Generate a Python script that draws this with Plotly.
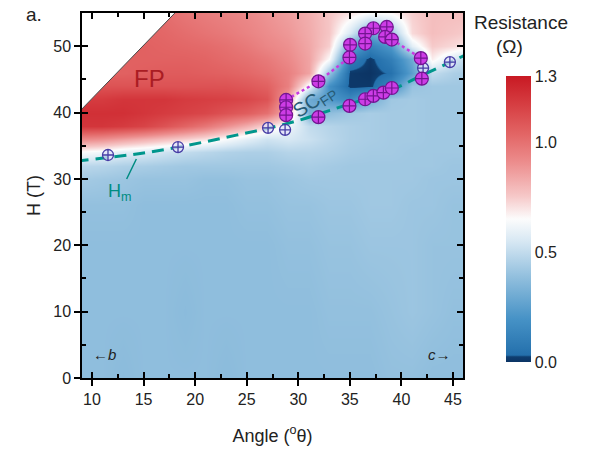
import plotly.graph_objects as go

# ---------------- data ----------------
angles = [9, 11, 13, 15, 17, 19, 21, 23, 25, 27, 29, 31, 33, 35, 37, 39, 41, 43, 45, 46]
fields = [0, 10, 20, 26, 30, 32, 34, 36, 38, 40, 42, 44, 46, 48, 50, 52, 55]
resistance = [
    [0.38, 0.38, 0.37, 0.38, 0.38, 0.38, 0.38, 0.37, 0.38, 0.38, 0.38, 0.38, 0.38, 0.38, 0.38, 0.39, 0.39, 0.38, 0.38, 0.38],
    [0.38, 0.38, 0.38, 0.38, 0.38, 0.37, 0.38, 0.38, 0.38, 0.38, 0.38, 0.38, 0.39, 0.39, 0.39, 0.40, 0.41, 0.40, 0.39, 0.39],
    [0.38, 0.38, 0.38, 0.38, 0.38, 0.38, 0.38, 0.38, 0.38, 0.38, 0.39, 0.39, 0.40, 0.40, 0.41, 0.41, 0.41, 0.40, 0.40, 0.40],
    [0.39, 0.39, 0.39, 0.38, 0.38, 0.38, 0.38, 0.38, 0.39, 0.39, 0.40, 0.40, 0.41, 0.41, 0.42, 0.42, 0.41, 0.41, 0.40, 0.40],
    [0.43, 0.42, 0.41, 0.40, 0.40, 0.40, 0.39, 0.39, 0.40, 0.40, 0.41, 0.42, 0.42, 0.42, 0.42, 0.42, 0.42, 0.41, 0.41, 0.41],
    [0.48, 0.47, 0.45, 0.44, 0.43, 0.42, 0.42, 0.42, 0.42, 0.42, 0.43, 0.44, 0.43, 0.42, 0.42, 0.42, 0.42, 0.42, 0.41, 0.41],
    [0.64, 0.62, 0.58, 0.56, 0.53, 0.50, 0.48, 0.46, 0.45, 0.45, 0.47, 0.47, 0.46, 0.44, 0.43, 0.43, 0.42, 0.42, 0.42, 0.42],
    [0.92, 0.90, 0.86, 0.82, 0.78, 0.74, 0.70, 0.64, 0.58, 0.53, 0.55, 0.52, 0.48, 0.45, 0.44, 0.43, 0.43, 0.42, 0.42, 0.42],
    [1.20, 1.20, 1.18, 1.15, 1.10, 1.04, 0.98, 0.90, 0.82, 0.72, 0.62, 0.50, 0.47, 0.45, 0.44, 0.43, 0.43, 0.42, 0.42, 0.42],
    [1.22, 1.22, 1.22, 1.20, 1.18, 1.16, 1.14, 1.10, 1.06, 1.00, 0.80, 0.32, 0.38, 0.42, 0.44, 0.43, 0.43, 0.42, 0.42, 0.42],
    [1.18, 1.18, 1.20, 1.20, 1.20, 1.18, 1.17, 1.16, 1.14, 1.10, 0.85, 0.30, 0.22, 0.15, 0.30, 0.42, 0.43, 0.42, 0.42, 0.42],
    [1.10, 1.10, 1.10, 1.10, 1.10, 1.10, 1.10, 1.10, 1.08, 1.05, 0.95, 0.62, 0.18, 0.01, 0.01, 0.15, 0.40, 0.42, 0.42, 0.42],
    [1.05, 1.05, 1.05, 1.06, 1.07, 1.07, 1.06, 1.05, 1.03, 1.00, 0.95, 0.85, 0.40, 0.01, 0.00, 0.04, 0.25, 0.50, 0.45, 0.44],
    [1.05, 1.05, 1.05, 1.05, 1.05, 1.05, 1.04, 1.02, 1.00, 0.97, 0.92, 0.85, 0.65, 0.10, 0.01, 0.10, 0.30, 0.68, 0.55, 0.50],
    [1.05, 1.05, 1.05, 1.05, 1.04, 1.03, 1.02, 1.00, 0.97, 0.93, 0.90, 0.84, 0.74, 0.30, 0.12, 0.22, 0.58, 0.75, 0.72, 0.70],
    [1.05, 1.05, 1.05, 1.04, 1.03, 1.01, 0.99, 0.97, 0.94, 0.91, 0.88, 0.83, 0.76, 0.55, 0.30, 0.40, 0.72, 0.78, 0.76, 0.75],
    [1.05, 1.05, 1.05, 1.03, 1.01, 0.98, 0.96, 0.94, 0.92, 0.89, 0.86, 0.82, 0.76, 0.70, 0.64, 0.66, 0.74, 0.78, 0.78, 0.78],
]

# unmeasured (white) region boundary, top-left
edge_angle = [8.0, 18.66, 8.0, 8.0]
edge_field = [38.9, 56.0, 56.0, 38.9]

# metamagnetic transition Hm (dashed guide)
hm_line_angle = [8.5, 12, 15, 18, 21, 24, 27, 30, 33, 36, 39, 42, 45, 46.5]
hm_line_field = [32.7, 33.3, 33.9, 34.7, 35.6, 36.6, 37.6, 38.8, 40.3, 41.8, 43.4, 45.6, 47.8, 48.9]

# Hm data points
hm_angle = [11.55, 18.34, 27.07, 28.72, 42.1, 44.7]
hm_field = [33.6, 34.8, 37.7, 37.4, 46.7, 47.6]

# SC_FP boundary points
sc_angle = [37.28, 38.58, 36.48, 36.48, 38.42, 39.07, 35.02, 34.96, 41.88, 31.95,
            41.98, 28.82, 28.82, 28.82, 31.95, 34.96, 36.48, 37.28, 38.25, 39.07]
sc_field = [52.7, 52.9, 51.9, 50.4, 51.4, 51.0, 50.2, 48.3, 48.2, 44.7,
            45.1, 41.9, 40.8, 39.6, 39.3, 41.0, 42.0, 42.5, 43.0, 43.7]

# dotted SC boundary guides
sc_upper_angle = [28.82, 31.95, 34.96]
sc_upper_field = [41.9, 44.7, 48.3]
sc_right_angle = [39.07, 41.88]
sc_right_field = [51.0, 48.2]

cbar_ticks = [0.0, 0.5, 1.0, 1.3]

colorscale = [
    [0.0, "rgb(12,52,100)"],
    [0.018, "rgb(14,62,112)"],
    [0.024, "rgb(36,112,172)"],
    [0.15, "rgb(70,146,198)"],
    [0.30, "rgb(147,192,222)"],
    [0.42, "rgb(214,231,243)"],
    [0.50, "rgb(252,252,252)"],
    [0.58, "rgb(246,200,200)"],
    [0.70, "rgb(236,140,140)"],
    [0.80, "rgb(226,100,100)"],
    [0.90, "rgb(214,62,66)"],
    [1.0, "rgb(200,25,35)"],
]

FONT = "Liberation Sans, Arial, sans-serif"
XR = [9.03, 45.97]
YR = [0, 55]

fig = go.Figure()

fig.add_trace(go.Heatmap(
    x=angles, y=fields, z=resistance, zsmooth="best",
    colorscale=colorscale, zmin=0, zmax=1.3,
    colorbar=dict(
        x=1.0866, xanchor="left", y=0.4356, yanchor="middle",
        len=0.838, lenmode="fraction", thickness=25, outlinewidth=0,
        tickvals=cbar_ticks, ticktext=["0.0", "0.5", "1.0", "1.3"],
        ticks="", tickfont=dict(family=FONT, size=16, color="#222"),
    ),
    hoverinfo="skip",
))

fig.add_trace(go.Scatter(
    x=edge_angle, y=edge_field, mode="lines", fill="toself",
    fillcolor="white", line=dict(color="rgb(70,70,70)", width=1),
    showlegend=False, hoverinfo="skip",
))

fig.add_trace(go.Scatter(
    x=hm_line_angle, y=hm_line_field, mode="lines", line_shape="spline",
    line=dict(color="rgb(0,150,140)", width=3, dash="12px,7px"),
    showlegend=False, xaxis="x2", yaxis="y2",
))

for xa, ya in [(sc_upper_angle, sc_upper_field), (sc_right_angle, sc_right_field)]:
    fig.add_trace(go.Scatter(
        x=xa, y=ya, mode="lines",
        line=dict(color="rgb(200,60,225)", width=2.5, dash="dot"),
        showlegend=False, xaxis="x2", yaxis="y2",
    ))

fig.add_trace(go.Scatter(
    x=hm_angle, y=hm_field, mode="markers",
    marker=dict(symbol="circle-cross", size=11, color="rgba(225,225,250,0.75)",
                line=dict(color="rgb(70,60,165)", width=1.3)),
    showlegend=False, xaxis="x2", yaxis="y2",
))

fig.add_trace(go.Scatter(
    x=sc_angle, y=sc_field, mode="markers",
    marker=dict(symbol="circle-cross", size=13, color="rgb(205,60,230)",
                line=dict(color="rgb(115,20,145)", width=1.2)),
    showlegend=False, xaxis="x2", yaxis="y2",
))

axis_common = dict(showgrid=False, zeroline=False, linecolor="black", linewidth=1.5,
                   tickcolor="black", tickwidth=1.5, automargin=False)

fig.update_layout(
    width=589, height=449,
    margin=dict(l=82, r=126, t=13, b=71, autoexpand=False),
    paper_bgcolor="white", plot_bgcolor="white",
    font=dict(family=FONT, color="#222"),
    xaxis=dict(range=XR, tickvals=[10, 15, 20, 25, 30, 35, 40, 45], ticks="outside",
               ticklen=6, showline=True, mirror=True,
               tickfont=dict(size=16, family=FONT, color="#222"),
               title=dict(text="Angle (<sup>o</sup>θ)", font=dict(size=18, family=FONT, color="#222"),
                          standoff=22),
               **axis_common),
    yaxis=dict(range=YR, tickvals=[0, 10, 20, 30, 40, 50], ticks="outside",
               ticklen=6, showline=True, mirror=True,
               tickfont=dict(size=16, family=FONT, color="#222"),
               title=dict(text="H (T)", font=dict(size=18, family=FONT, color="#222"),
                          standoff=8),
               **axis_common),
    xaxis2=dict(range=XR, overlaying="x", anchor="y2", side="bottom",
                tickvals=[10, 15, 20, 25, 30, 35, 40, 45], ticks="inside", ticklen=6,
                showticklabels=False, showline=True, mirror="ticks",
                minor=dict(tickvals=[12.5, 17.5, 22.5, 27.5, 32.5, 37.5, 42.5],
                           ticks="inside", ticklen=4, tickcolor="black", tickwidth=1.5),
                **axis_common),
    yaxis2=dict(range=YR, overlaying="y", anchor="x2", side="left",
                tickvals=[0, 10, 20, 30, 40, 50], ticks="inside", ticklen=6,
                showticklabels=False, showline=True, mirror="ticks",
                minor=dict(tickvals=[5, 15, 25, 35, 45, 55],
                           ticks="inside", ticklen=4, tickcolor="black", tickwidth=1.5),
                **axis_common),
    annotations=[
        dict(text="a.", x=-0.125, y=0.995, xref="paper", yref="paper", showarrow=False,
             font=dict(size=19, family=FONT, color="#222"), xanchor="center", yanchor="middle"),
        dict(text="FP", x=15.6, y=45.2, xref="x", yref="y", showarrow=False,
             font=dict(size=24, family=FONT, color="rgb(170,28,35)")),
        dict(text="SC<sub>FP</sub>", x=31.6, y=41.6, xref="x", yref="y", showarrow=False,
             textangle=-33, font=dict(size=20, family=FONT, color="rgb(40,92,118)")),
        dict(text="H<sub>m</sub>", x=14.3, y=33.0, xref="x", yref="y", showarrow=True,
             arrowhead=0, arrowwidth=1.5, arrowcolor="rgb(0,140,130)", ax=-16, ay=33,
             font=dict(size=18, family=FONT, color="rgb(0,140,130)")),
        dict(text="←<i>b</i>", x=11.2, y=3.5, xref="x", yref="y", showarrow=False,
             font=dict(size=15, family=FONT, color="#222")),
        dict(text="<i>c</i>→", x=43.7, y=3.5, xref="x", yref="y", showarrow=False,
             font=dict(size=15, family=FONT, color="#222")),
        dict(text="Resistance", x=1.152, y=0.975, xref="paper", yref="paper", showarrow=False,
             font=dict(size=19, family=FONT, color="#222"), xanchor="center", yanchor="middle"),
        dict(text="(Ω)", x=1.123, y=0.907, xref="paper", yref="paper", showarrow=False,
             font=dict(size=19, family=FONT, color="#222"), xanchor="center", yanchor="middle"),
    ],
)

fig.write_html("out.html")
